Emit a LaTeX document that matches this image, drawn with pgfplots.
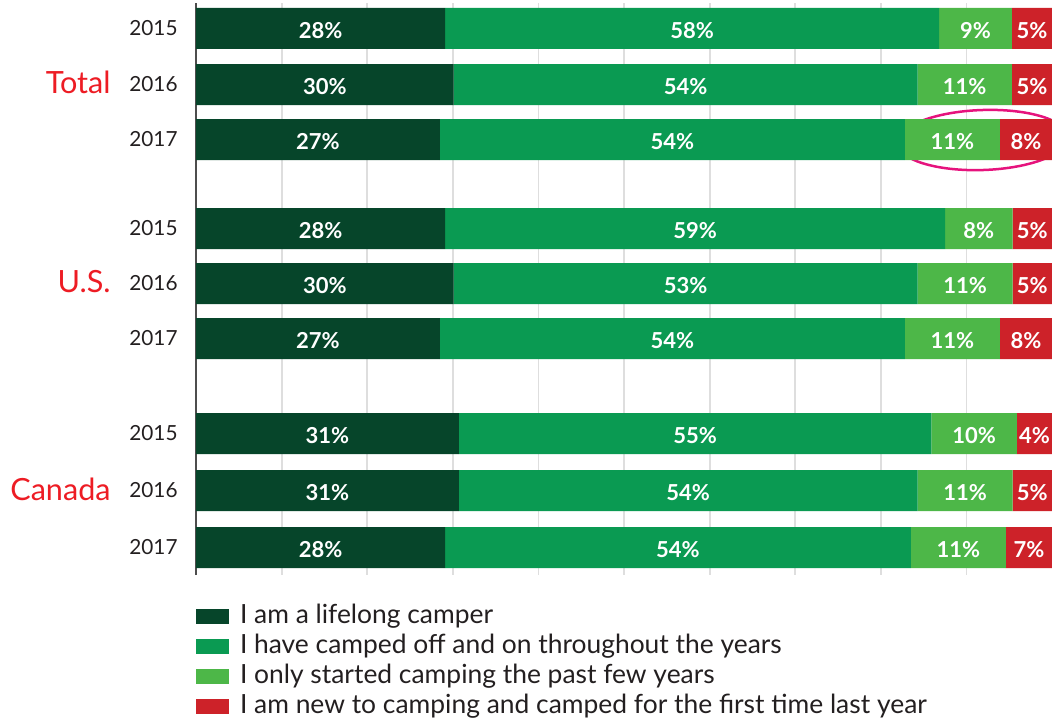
\documentclass[border=0pt]{standalone}
\usepackage{fontspec}
\setmainfont{Lato}
\usepackage{pgfplots}
\pgfplotsset{compat=1.18}
\definecolor{lifelong}{HTML}{06452A}
\definecolor{onoff}{HTML}{0A9A52}
\definecolor{recent}{HTML}{4DB748}
\definecolor{newbie}{HTML}{CD2229}
\definecolor{ink}{HTML}{231F20}
\definecolor{region}{HTML}{ED1C24}
\definecolor{ring}{HTML}{E6137D}
\definecolor{gridgray}{HTML}{DEDEDE}
\definecolor{axisgray}{HTML}{4D4D4D}

\begin{document}
\begin{tikzpicture}[font=\fontsize{10.4bp}{12bp}\selectfont,text=ink]
\path[use as bounding box] (0,0) rectangle (526bp,-359.5bp);
\pgfplotsset{panel/.style={scale only axis,width=428bp,height=286bp,at={(98bp,-1.5bp)},anchor=north west,
  xmin=0,xmax=100,ymin=3,ymax=575,y dir=reverse,clip=false}}
% bars: segment shares (%), rows top to bottom
\begin{axis}[panel,xbar stacked,bar width=20.5bp,
  axis line style={draw=none},major tick length=0pt,
  xtick={10,20,...,90},xticklabels={},xmajorgrids,grid style={draw=gridgray,line width=0.9bp},
  ytick={28.3,84.5,139.5,228.5,283.5,338.5,433.5,490.5,547.5},
  yticklabels={2015,2016,2017,2015,2016,2017,2015,2016,2017},
  yticklabel style={inner sep=0pt,xshift=-9bp,text=ink,font=\fontsize{10.4bp}{12bp}\selectfont},
  legend cell align=left,
  legend image code/.code={\fill[#1] (0bp,-3.75bp) rectangle (16.5bp,3.75bp);\path (22bp,0bp);},
  legend style={draw=none,fill=none,at={(0,-0.0495)},anchor=north west,inner sep=0pt,outer sep=0pt,
    font=\fontsize{13.2bp}{15bp}\selectfont,text=ink,
    nodes={inner sep=0pt,text depth=3bp,text height=10bp},row sep=2.1bp}]
\addplot[fill=lifelong,draw=none] coordinates {(29.1,28.3)(30.1,84.5)(28.5,139.5)(29.1,228.5)(30.1,283.5)(28.5,338.5)(30.7,433.5)(30.7,490.5)(29.1,547.5)};
\addlegendentry{I am a lifelong camper}
\addplot[fill=onoff,draw=none] coordinates {(57.7,28.3)(54.2,84.5)(54.3,139.5)(58.4,228.5)(54.2,283.5)(54.3,338.5)(55.2,433.5)(53.6,490.5)(54.4,547.5)};
\addlegendentry{I have camped off and on throughout the years}
\addplot[fill=recent,draw=none] coordinates {(8.5,28.3)(11.0,84.5)(11.1,139.5)(7.9,228.5)(11.1,283.5)(11.1,338.5)(10.0,433.5)(11.1,490.5)(11.1,547.5)};
\addlegendentry{I only started camping the past few years}
\addplot[fill=newbie,draw=none] coordinates {(4.7,28.3)(4.7,84.5)(6.1,139.5)(4.6,228.5)(4.6,283.5)(6.1,338.5)(4.1,433.5)(4.6,490.5)(5.4,547.5)};
\addlegendentry{I am new to camping and camped for the first time last year}
\draw[axisgray,line width=1bp] (rel axis cs:0,0) -- (rel axis cs:0,1);
\draw[ring,line width=1.25bp] (axis cs:91.9,140) ellipse [x radius=42.8bp,y radius=15bp,rotate=2];
\node[anchor=east,inner sep=0pt,text=region,font=\fontsize{15.3bp}{18bp}\selectfont,xshift=-42.5bp] at (axis cs:0,82.5) {Total};
\node[anchor=east,inner sep=0pt,text=region,font=\fontsize{15.3bp}{18bp}\selectfont,xshift=-42.5bp] at (axis cs:0,282) {U.S.};
\node[anchor=east,inner sep=0pt,text=region,font=\fontsize{15.3bp}{18bp}\selectfont,xshift=-42.5bp] at (axis cs:0,489.5) {Canada};
\end{axis}
% value labels at segment centres
\begin{axis}[panel,hide axis,
  nodes near coords,point meta=explicit symbolic,
  nodes near coords style={anchor=center,inner sep=0pt,yshift=-1.25bp,text=white,font=\fontsize{11bp}{12bp}\selectfont\bfseries}]
\addplot[draw=none,mark=none] coordinates {
 (14.55,28.3) [28\%] (57.95,28.3) [58\%] (91.05,28.3) [9\%] (97.65,28.3) [5\%]
 (15.05,84.5) [30\%] (57.2,84.5) [54\%] (89.8,84.5) [11\%] (97.65,84.5) [5\%]
 (14.25,139.5) [27\%] (55.65,139.5) [54\%] (88.35,139.5) [11\%] (96.95,139.5) [8\%]
 (14.55,228.5) [28\%] (58.3,228.5) [59\%] (91.45,228.5) [8\%] (97.7,228.5) [5\%]
 (15.05,283.5) [30\%] (57.2,283.5) [53\%] (89.85,283.5) [11\%] (97.7,283.5) [5\%]
 (14.25,338.5) [27\%] (55.65,338.5) [54\%] (88.35,338.5) [11\%] (96.95,338.5) [8\%]
 (15.35,433.5) [31\%] (58.3,433.5) [55\%] (90.9,433.5) [10\%] (97.95,433.5) [4\%]
 (15.35,490.5) [31\%] (57.5,490.5) [54\%] (89.85,490.5) [11\%] (97.7,490.5) [5\%]
 (14.55,547.5) [28\%] (56.3,547.5) [54\%] (89.05,547.5) [11\%] (97.3,547.5) [7\%]
};
\end{axis}
\end{tikzpicture}
\end{document}
